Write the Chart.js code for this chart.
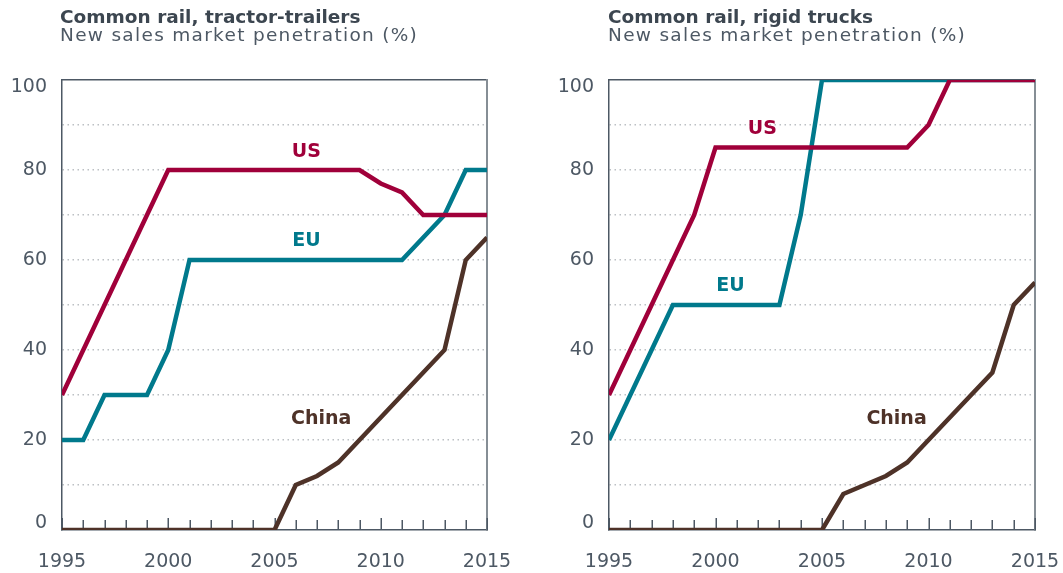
<!DOCTYPE html>
<html><head><meta charset="utf-8">
<script src="https://cdn.jsdelivr.net/npm/chart.js@4.4.0/dist/chart.umd.min.js"></script>
<style>
html,body{margin:0;padding:0;background:#fff;}
#wrap{position:relative;width:1063px;height:573px;overflow:hidden;font-family:"DejaVu Sans",sans-serif;}
canvas{position:absolute;top:0;}
.t{position:absolute;white-space:nowrap;color:#3c4650;font-weight:700;font-size:18.5px;line-height:1;top:8px;}
.s{position:absolute;white-space:nowrap;color:#4d5864;font-size:18.5px;letter-spacing:1.3px;line-height:1;top:26px;}
</style></head>
<body>
<div id="wrap">
  <canvas id="c1" width="540" height="573" style="left:0px"></canvas>
  <canvas id="c2" width="523" height="573" style="left:540px"></canvas>
  <div class="t" style="left:60px">Common rail, tractor-trailers</div>
  <div class="s" style="left:60px">New sales market penetration (%)</div>
  <div class="t" style="left:608px">Common rail, rigid trucks</div>
  <div class="s" style="left:608px">New sales market penetration (%)</div>
</div>
<script>
// ---- data ----
const years = [1995,1996,1997,1998,1999,2000,2001,2002,2003,2004,2005,2006,2007,2008,2009,2010,2011,2012,2013,2014,2015];
const xTicks = [1995,2000,2005,2010,2015];
const yTicks = [0,20,40,60,80,100];

// tractor-trailers
const ttUS    = [30,40,50,60,70,80,80,80,80,80,80,80,80,80,80,77,75,70,70,70,70];
const ttEU    = [20,20,30,30,30,40,60,60,60,60,60,60,60,60,60,60,60,65,70,80,80];
const ttChina = [0,0,0,0,0,0,0,0,0,0,0,10,12,15,20,25,30,35,40,60,65];

// rigid trucks
const rtUS    = [30,40,50,60,70,85,85,85,85,85,85,85,85,85,85,90,100,100,100,100,100];
const rtEU    = [20,30,40,50,50,50,50,50,50,70,100,100,100,100,100,100,100,100,100,100,100];
const rtChina = [0,0,0,0,0,0,0,0,0,0,0,8,10,12,15,20,25,30,35,50,55];

const seriesNames = ['US','EU','China'];
const colors = {US:'#a0003a', EU:'#00798c', China:'#4e3228'};

// series label anchors (in data units)
const ttLabelPos = {US:[2006.5,84], EU:[2006.5,64.2], China:[2007.2,24.7]};
const rtLabelPos = {US:[2002.2,89.1], EU:[2000.7,54.3], China:[2008.5,24.7]};

const AXIS = '#4d5864';
const FONT = '"DejaVu Sans", sans-serif';

const inwardTicks = {
  id:'inwardTicks',
  beforeDatasetsDraw(chart){
    const xs = chart.scales.x, c = chart.ctx, b = chart.chartArea.bottom;
    c.save(); c.strokeStyle = AXIS; c.lineWidth = 1.5;
    for (const yr of years){
      const px = Math.round(xs.getPixelForValue(yr)) + 0.25;
      const len = yr % 5 === 0 ? 12 : 10;
      c.beginPath(); c.moveTo(px, b); c.lineTo(px, b - len); c.stroke();
    }
    c.restore();
  }
};

// y tick labels: drawn at the scale's pixel for each tick, kept inside the frame
const yLabels = {
  id:'yLabels',
  afterDraw(chart){
    const ys = chart.scales.y, c = chart.ctx, a = chart.chartArea;
    c.save();
    c.font = '19px ' + FONT; c.fillStyle = AXIS;
    c.textAlign = 'right'; c.textBaseline = 'middle';
    for (const v of yTicks){
      let py = ys.getPixelForValue(v);
      py = Math.min(Math.max(py, a.top + 7), a.bottom - 7);
      c.fillText(String(v), a.left - 15, py);
    }
    c.restore();
  }
};

function labelPlugin(pos){
  return {
    id:'seriesLabels',
    afterDatasetsDraw(chart){
      const c = chart.ctx, xs = chart.scales.x, ys = chart.scales.y;
      c.save();
      c.font = 'bold 19px ' + FONT;
      c.textAlign = 'center'; c.textBaseline = 'middle';
      for (const n of seriesNames){
        c.fillStyle = colors[n];
        c.fillText(n, xs.getPixelForValue(pos[n][0]), ys.getPixelForValue(pos[n][1]));
      }
      c.restore();
    }
  };
}

function build(id, us, eu, china, pos, yWidth, padRight){
  const vals = {US:us, EU:eu, China:china};
  new Chart(document.getElementById(id), {
    type:'line',
    data:{
      datasets: seriesNames.map(n => ({
        label:n,
        data: years.map((x,i)=>({x, y: vals[n][i]})),
        borderColor: colors[n], backgroundColor: colors[n],
        borderWidth: 4.5, pointRadius: 0, tension: 0, fill: false,
        borderJoinStyle:'miter'
      }))
    },
    options:{
      responsive:false, animation:false, devicePixelRatio:1,
      layout:{padding:{top:80, right:padRight, left:0, bottom:0}},
      plugins:{legend:{display:false}, tooltip:{enabled:false}},
      scales:{
        x:{
          type:'linear', position:'bottom', min:years[0], max:years[years.length-1],
          afterBuildTicks: s => { s.ticks = xTicks.map(v => ({value:v})); },
          ticks:{callback: v => String(v), font:{family:FONT, size:19}, color:AXIS, padding:3, maxRotation:0, autoSkip:false},
          grid:{display:true, drawOnChartArea:false, drawTicks:true, tickLength:18, tickColor:'rgba(0,0,0,0)', color:'rgba(0,0,0,0)'},
          border:{display:true, color:AXIS, width:1.5},
          afterFit: s => { s.height = 43; }
        },
        x2:{
          type:'linear', position:'top', min:years[0], max:years[years.length-1],
          ticks:{display:false}, grid:{display:false, drawTicks:false},
          border:{display:true, color:AXIS, width:1.5},
          afterFit: s => { s.height = 0; }
        },
        y:{
          type:'linear', position:'left', min:0, max:100,
          ticks:{stepSize:10, callback: () => '', font:{family:FONT, size:19}, color:AXIS, padding:15},
          grid:{drawTicks:false, lineWidth:1.5,
                color: ctx => (ctx.tick && (ctx.tick.value === 0 || ctx.tick.value === 100)) ? 'rgba(0,0,0,0)' : '#bcc0c4'},
          border:{display:true, color:AXIS, width:1.5, dash:[1.5,3.5]},
          afterFit: s => { s.width = yWidth; }
        },
        y2:{
          type:'linear', position:'right', min:0, max:100,
          ticks:{display:false}, grid:{display:false, drawTicks:false},
          border:{display:true, color:'#868e95', width:2},
          afterFit: s => { s.width = 0; }
        }
      }
    },
    plugins:[inwardTicks, yLabels, labelPlugin(pos)]
  });
}

build('c1', ttUS, ttEU, ttChina, ttLabelPos, 62, 53);
build('c2', rtUS, rtEU, rtChina, rtLabelPos, 69, 28);
</script>
</body></html>
